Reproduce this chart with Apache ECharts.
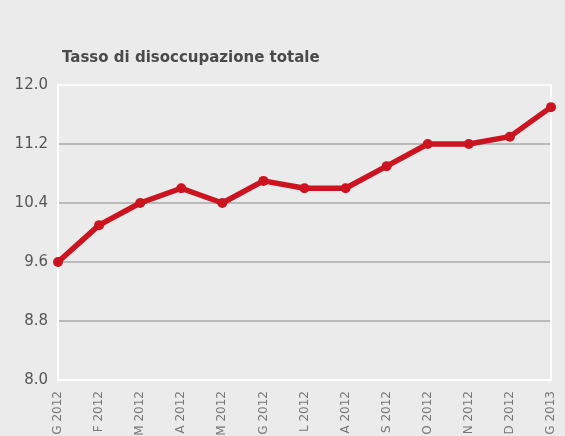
<!DOCTYPE html>
<html><head><meta charset="utf-8">
<script src="https://cdn.jsdelivr.net/npm/echarts@6/dist/echarts.min.js"></script>
<style>html,body{margin:0;padding:0;background:#ebebeb;}#c{width:565px;height:436px;}</style>
</head><body><div id="c"></div>
<script>
const title = 'Tasso di disoccupazione totale';
const categories = ['G 2012','F 2012','M 2012','A 2012','M 2012','G 2012','L 2012','A 2012','S 2012','O 2012','N 2012','D 2012','G 2013'];
const values = [9.6, 10.1, 10.4, 10.6, 10.4, 10.7, 10.6, 10.6, 10.9, 11.2, 11.2, 11.3, 11.7];
const yMin = 8.0, yMax = 12.0, yStep = 0.8;

const chart = echarts.init(document.getElementById('c'));
chart.setOption({
  backgroundColor: '#ebebeb',
  animation: false,
  title: {
    text: title, left: 57, top: 46,
    textStyle: { fontFamily: 'DejaVu Sans', fontSize: 15, fontWeight: 'bold', color: '#4a4a4a' }
  },
  grid: { left: 58, right: 14, top: 85, bottom: 56, containLabel: false, outerBoundsMode: 'none' },
  xAxis: {
    type: 'category', data: categories, boundaryGap: false,
    axisLine: { show: true, lineStyle: { color: '#fff', width: 2 } },
    axisTick: { show: false },
    axisLabel: { interval: 0, rotate: 90, margin: 11, color: '#777', fontFamily: 'DejaVu Sans', fontSize: 12 },
    splitLine: { show: false }
  },
  yAxis: [{
    type: 'value', min: yMin, max: yMax, interval: yStep,
    axisLine: { show: true, lineStyle: { color: '#fff', width: 2 } },
    axisTick: { show: false },
    axisLabel: { formatter: v => v.toFixed(1), color: '#555', fontFamily: 'DejaVu Sans', fontSize: 15, margin: 10 },
    splitLine: { show: true, lineStyle: { color: ['#fff','#aaa','#aaa','#aaa','#aaa','#fff'], width: 1.5 } }
  }, {
    type: 'value', min: yMin, max: yMax, interval: yStep, position: 'right',
    axisLine: { show: true, lineStyle: { color: '#fff', width: 2 } },
    axisTick: { show: false }, axisLabel: { show: false }, splitLine: { show: false }
  }],
  series: [{
    type: 'line', data: values,
    lineStyle: { color: '#cc1421', width: 5.5 },
    itemStyle: { color: '#cc1421' },
    symbol: 'circle', symbolSize: 10
  }]
});
</script></body></html>
